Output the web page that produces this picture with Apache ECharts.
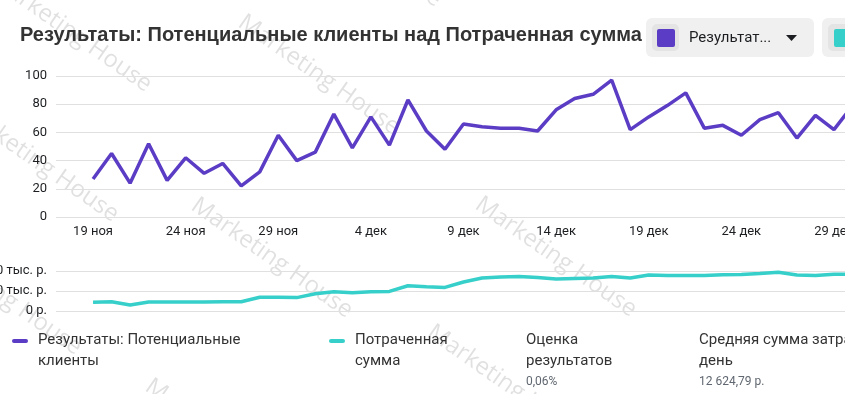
<!DOCTYPE html>
<html><head><meta charset="utf-8">
<script src="https://cdn.jsdelivr.net/npm/echarts@6/dist/echarts.min.js"></script>
<style>html,body{margin:0;padding:0;background:#fff}#c{width:845px;height:394px}</style>
</head><body><div id="c"></div>
<script>
// Categories: 17 ноя .. 31 дек
const categories = [
  '17 ноя','18 ноя','19 ноя','20 ноя','21 ноя','22 ноя','23 ноя','24 ноя','25 ноя','26 ноя','27 ноя','28 ноя','29 ноя','30 ноя',
  '1 дек','2 дек','3 дек','4 дек','5 дек','6 дек','7 дек','8 дек','9 дек','10 дек','11 дек','12 дек','13 дек','14 дек','15 дек','16 дек',
  '17 дек','18 дек','19 дек','20 дек','21 дек','22 дек','23 дек','24 дек','25 дек','26 дек','27 дек','28 дек','29 дек','30 дек','31 дек'
];
const leads = [
  null,null,27,45,24,52,26,42,31,38,22,32,58,40,
  46,73,49,71,51,83,61,48,66,64,63,63,61,76,84,87,
  97,62,71,79,88,63,65,58,69,74,56,72,62,79,72
];
const spend = [
  null,null,4400,4600,3000,4500,4500,4500,4500,4600,4600,6900,6900,6700,
  8600,9600,9100,9600,9800,12600,12100,11800,14500,16500,17000,17300,16800,16000,16300,16500,
  17300,16500,18000,17700,17700,17800,18100,18200,18700,19400,18000,17800,18400,18400,18300
];
const leadTicks = {min:0, max:100, interval:20};
const spendTicks = {min:0, max:20000, interval:10000};
const titleText = 'Результаты: Потенциальные клиенты над Потраченная сумма';
const seriesNames = ['Результаты: Потенциальные клиенты','Потраченная сумма'];
const summaryLabels = [['Оценка','результатов'],['Средняя сумма затрат в','день']];
const summaryValues = ['0,06%','12 624,79 р.'];

const PURPLE = '#5b3cc4', TEAL = '#36cfc9', TXT = '#1c1e21', GRIDC = '#e0e0e0';
const FONT = 'Roboto, "Noto Sans", sans-serif';

const wm = [[71,32],[38,162],[319,75],[272,258],[1,295],[556,257],[508,385],[226,439],[361,-53]];
const graphics = [];
wm.forEach(p => graphics.push({type:'text', x:p[0], y:p[1], rotation:-35*Math.PI/180, z:-10, silent:true,
  style:{text:'Marketing House', font:'24px "Open Sans", Roboto, sans-serif', fill:'rgba(0,0,0,0.12)', textAlign:'center', textVerticalAlign:'middle'}}));
// top legend buttons
graphics.push(
  {type:'rect', shape:{x:646,y:18,width:168,height:39,r:6}, style:{fill:'#f0f0f0'}},
  {type:'rect', shape:{x:652,y:24,width:27,height:27,r:5}, style:{fill:'#e4e4e4'}},
  {type:'rect', shape:{x:657,y:29,width:18,height:18,r:2}, style:{fill:PURPLE}},
  {type:'text', x:689, y:38, style:{text:'Результат...', font:'15px '+FONT, fill:TXT, textVerticalAlign:'middle'}},
  {type:'polygon', shape:{points:[[786,35],[797,35],[791.5,41]]}, style:{fill:TXT}},
  {type:'rect', shape:{x:822,y:18,width:80,height:39,r:6}, style:{fill:'#f0f0f0'}},
  {type:'rect', shape:{x:828,y:24,width:27,height:27,r:5}, style:{fill:'#e4e4e4'}},
  {type:'rect', shape:{x:834,y:29,width:18,height:18,r:2}, style:{fill:TEAL}}
);
// bottom legend
function lbl(x,y,t,size,color){graphics.push({type:'text',x:x,y:y,style:{text:t,font:size+'px '+FONT,fill:color,textVerticalAlign:'middle'}});}
graphics.push({type:'rect', shape:{x:12,y:339,width:16,height:4,r:2}, style:{fill:PURPLE}});
graphics.push({type:'rect', shape:{x:329,y:339,width:16,height:4,r:2}, style:{fill:TEAL}});
lbl(38,340,'Результаты: Потенциальные',15,'#333'); lbl(38,361,'клиенты',15,'#333');
lbl(355,340,'Потраченная',15,'#333'); lbl(355,361,'сумма',15,'#333');
lbl(526,340,summaryLabels[0][0],15,'#333'); lbl(526,361,summaryLabels[0][1],15,'#333'); lbl(526,382,summaryValues[0],12,'#606770');
lbl(699,340,summaryLabels[1][0],15,'#333'); lbl(699,361,summaryLabels[1][1],15,'#333'); lbl(699,382,summaryValues[1],12,'#606770');

const chart = echarts.init(document.getElementById('c'), null, {renderer:'canvas'});
chart.setOption({
  animation:false,
  textStyle:{fontFamily:FONT},
  title:{text:titleText, left:20, top:25, padding:0, textStyle:{fontSize:20, fontWeight:'bold', color:'#333', fontFamily:'"Liberation Sans", Arial, sans-serif'}},
  graphic:graphics,
  grid:[
    {left:56, top:76, width:815, height:141, outerBoundsMode:'none', containLabel:false},
    {left:56, top:271, width:815, height:40, outerBoundsMode:'none', containLabel:false}
  ],
  xAxis:[
    {type:'category', gridIndex:0, data:categories, boundaryGap:false,
     axisLine:{show:false}, axisTick:{show:false},
     axisLabel:{interval:(i)=>(i-2)%5===0, fontSize:13, color:TXT, margin:8}},
    {type:'category', gridIndex:1, data:categories, boundaryGap:false,
     axisLine:{show:false}, axisTick:{show:false}, axisLabel:{show:false}}
  ],
  yAxis:[
    {type:'value', gridIndex:0, min:leadTicks.min, max:leadTicks.max, interval:leadTicks.interval,
     axisLabel:{fontSize:13, color:TXT, margin:9}, splitLine:{lineStyle:{color:GRIDC, width:1}}},
    {type:'value', gridIndex:1, min:spendTicks.min, max:spendTicks.max, interval:spendTicks.interval,
     axisLabel:{fontSize:13, color:TXT, margin:9, formatter:v=> v===0 ? '0 р.' : (v/1000)+' тыс. р.'},
     splitLine:{lineStyle:{color:GRIDC, width:1}}}
  ],
  series:[
    {name:seriesNames[0], type:'line', xAxisIndex:0, yAxisIndex:0, data:leads, showSymbol:false,
     lineStyle:{color:PURPLE, width:3.5}, itemStyle:{color:PURPLE}},
    {name:seriesNames[1], type:'line', xAxisIndex:1, yAxisIndex:1, data:spend, showSymbol:false,
     lineStyle:{color:TEAL, width:3.5}, itemStyle:{color:TEAL}}
  ]
});
</script></body></html>
